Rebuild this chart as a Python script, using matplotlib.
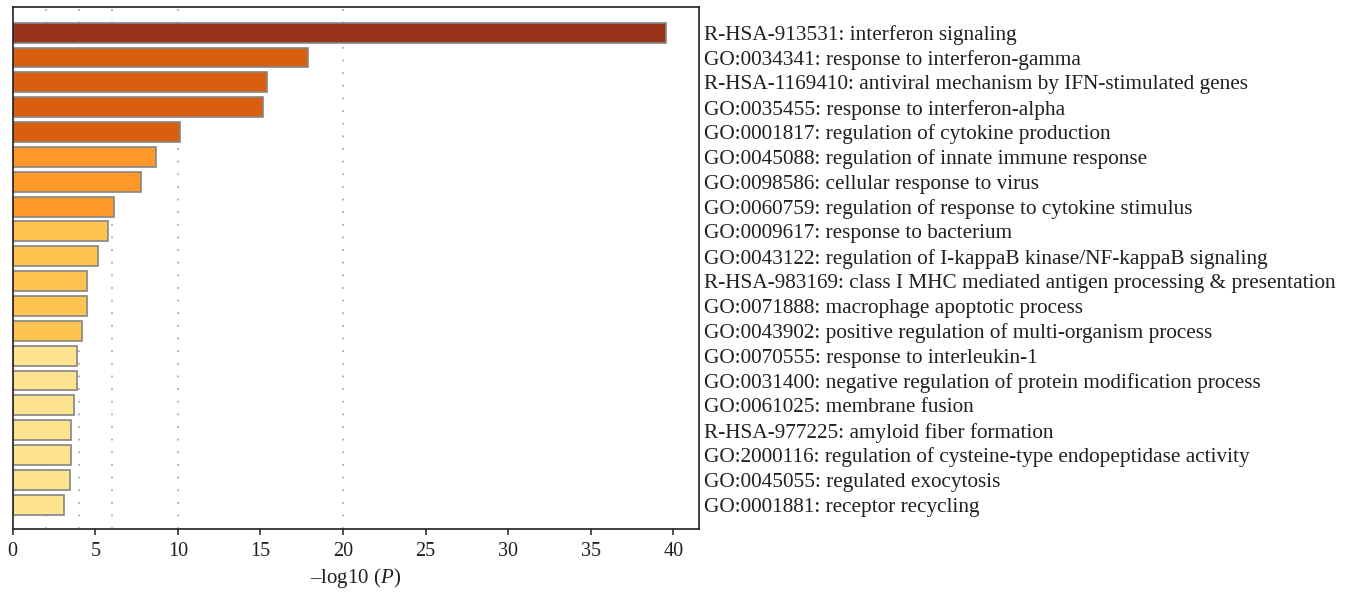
import matplotlib
matplotlib.use("Agg")
import matplotlib.pyplot as plt

# Enrichment terms (top to bottom) and their -log10(P) values
terms = [
    "R-HSA-913531: interferon signaling",
    "GO:0034341: response to interferon-gamma",
    "R-HSA-1169410: antiviral mechanism by IFN-stimulated genes",
    "GO:0035455: response to interferon-alpha",
    "GO:0001817: regulation of cytokine production",
    "GO:0045088: regulation of innate immune response",
    "GO:0098586: cellular response to virus",
    "GO:0060759: regulation of response to cytokine stimulus",
    "GO:0009617: response to bacterium",
    "GO:0043122: regulation of I-kappaB kinase/NF-kappaB signaling",
    "R-HSA-983169: class I MHC mediated antigen processing & presentation",
    "GO:0071888: macrophage apoptotic process",
    "GO:0043902: positive regulation of multi-organism process",
    "GO:0070555: response to interleukin-1",
    "GO:0031400: negative regulation of protein modification process",
    "GO:0061025: membrane fusion",
    "R-HSA-977225: amyloid fiber formation",
    "GO:2000116: regulation of cysteine-type endopeptidase activity",
    "GO:0045055: regulated exocytosis",
    "GO:0001881: receptor recycling",
]
neg_log_p = [39.55, 17.86, 15.41, 15.17, 10.13, 8.66, 7.79, 6.13, 5.79, 5.18,
             4.52, 4.52, 4.21, 3.91, 3.87, 3.69, 3.55, 3.55, 3.49, 3.12]
bar_colors = ["#993319",
              "#d95f0e", "#d95f0e", "#d95f0e", "#d95f0e",
              "#fe9929", "#fe9929", "#fe9929",
              "#fec44f", "#fec44f", "#fec44f", "#fec44f", "#fec44f",
              "#fee391", "#fee391", "#fee391", "#fee391", "#fee391", "#fee391", "#fee391"]
xticks = [0, 5, 10, 15, 20, 25, 30, 35, 40]
grid_x = [2, 4, 6, 10, 20]

serif = "Liberation Serif"
plt.rcParams["font.family"] = [serif, "DejaVu Serif"]
plt.rcParams["mathtext.fontset"] = "custom"
plt.rcParams["mathtext.rm"] = serif
plt.rcParams["mathtext.it"] = serif + ":italic"
text_color = "#231f20"

fig = plt.figure(figsize=(13.48, 5.95), dpi=100)
ax = fig.add_axes([0.0094, 0.1104, 0.5089, 0.8773])

pos = list(range(len(terms)))
for gx in grid_x:
    ax.axvline(gx, color="#ababab", lw=1.3, ls=(0, (1, 6)), zorder=0)
ax.barh(pos, neg_log_p, height=0.8, color=bar_colors,
        edgecolor="#858585", linewidth=1.2, zorder=2)

ax.set_xlim(0, 41.53)
ax.set_ylim(19.99, -1.02)
ax.set_xticks(xticks)
ax.set_xticklabels([str(t) for t in xticks], fontsize=14.5, color=text_color)
ax.tick_params(axis="x", direction="out", length=4, width=1.1, pad=5,
               colors=text_color)

ax.yaxis.tick_right()
ax.set_yticks(pos)
ax.set_yticklabels(terms, fontsize=15.3, color=text_color)
ax.tick_params(axis="y", length=0, pad=4)

for sp in ax.spines.values():
    sp.set_color("#231f20")
    sp.set_linewidth(1.2)

ax.set_xlabel("\u2013log10 ($P$)", fontsize=15, color=text_color, labelpad=4)

fig.savefig("out.png", dpi=100)
